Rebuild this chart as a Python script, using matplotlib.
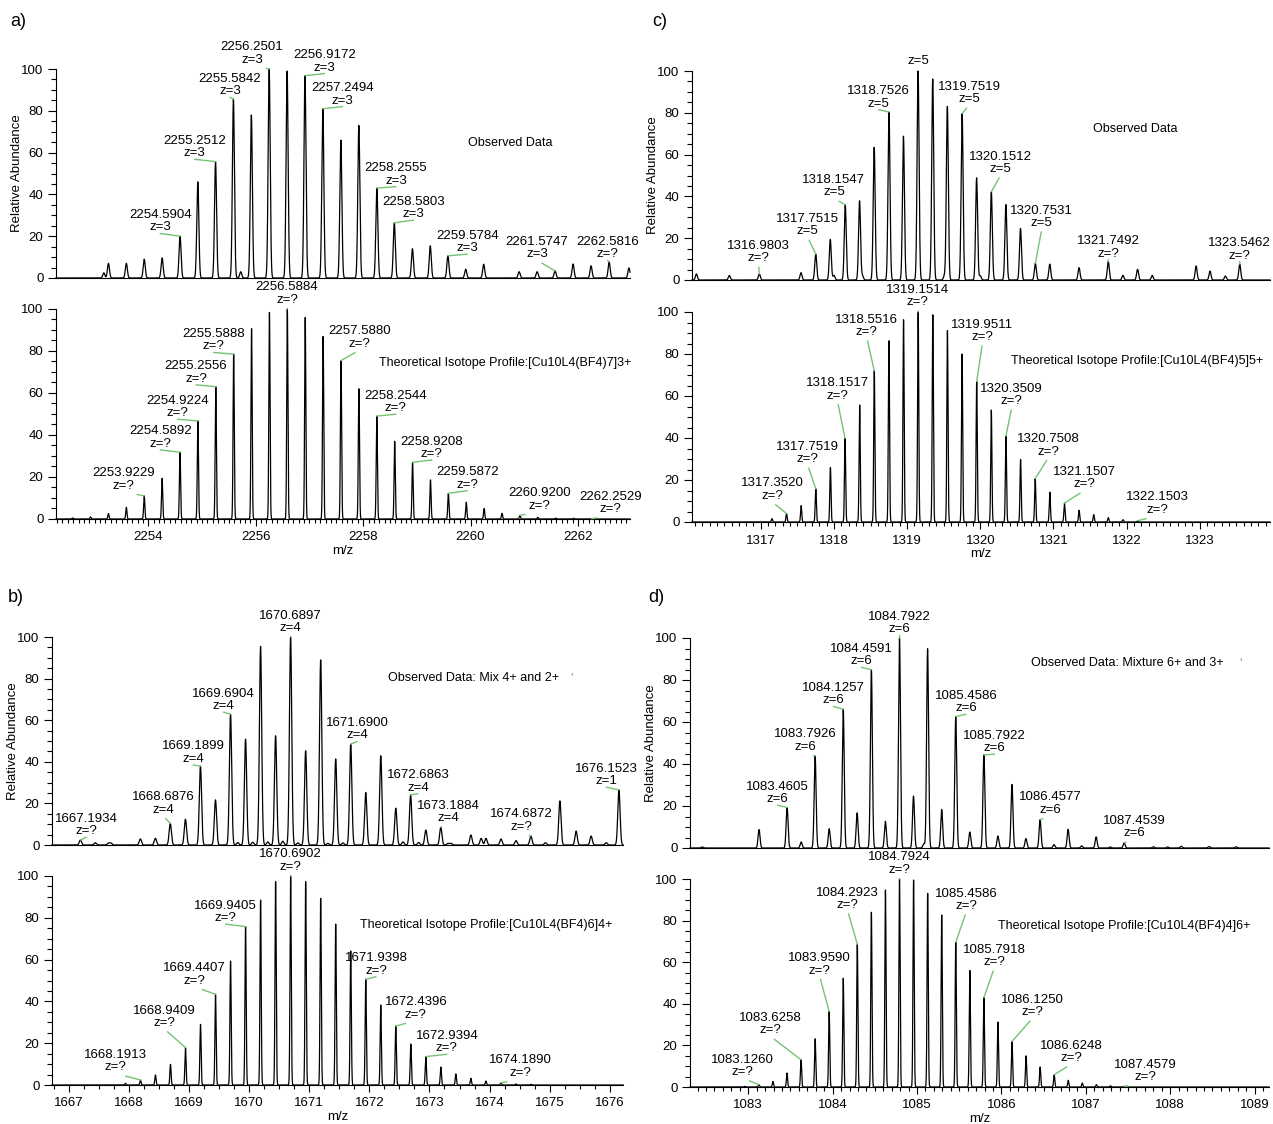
import numpy as np
import matplotlib
matplotlib.use("Agg")
import matplotlib.pyplot as plt
from matplotlib.ticker import MultipleLocator

plt.rcParams["font.family"] = ["Liberation Sans", "DejaVu Sans"]

# ---- a) [Cu10L4(BF4)7]3+ ----
a_obs_mz = [2253.17, 2253.2567, 2253.59, 2253.923, 2254.256, 2254.5904, 2254.921, 2255.2512,
            2255.5842, 2255.72, 2255.918, 2256.2501, 2256.584, 2256.9172, 2257.2494, 2257.585,
            2257.92, 2258.2555, 2258.5803, 2258.918, 2259.25, 2259.5784, 2259.91, 2260.245,
            2260.905, 2261.24, 2261.5747, 2261.91, 2262.245, 2262.5816, 2262.95]
a_obs_int = [2.5, 7, 7, 9, 9.6, 20, 46, 55.7, 85.6, 3, 78, 100, 99, 96.8, 81, 66, 73, 43, 26.4,
             14, 15.4, 10.6, 4.2, 6.6, 3, 3, 3.4, 6.7, 5.8, 7.7, 4.8]
a_theo_mz = [2252.5900, 2252.9232, 2253.2565, 2253.5897, 2253.9229, 2254.2560, 2254.5892,
             2254.9224, 2255.2556, 2255.5888, 2255.9220, 2256.2552, 2256.5884, 2256.9216,
             2257.2548, 2257.5880, 2257.9212, 2258.2544, 2258.5876, 2258.9208, 2259.2540,
             2259.5872, 2259.9204, 2260.2536, 2260.5868, 2260.9200, 2261.2532, 2261.5864,
             2261.9196, 2262.2529]
a_theo_int = [0.5, 1.0, 2.6, 5.6, 11.0, 19.4, 31.8, 46.7, 63.0, 78.5, 90.6, 98.4, 100, 96.0,
              87.0, 75.4, 62.0, 49.0, 37.0, 27.0, 18.6, 12.2, 8.0, 5.0, 2.7, 1.7, 0.8, 0.4, 0.3, 0.1]
a_obs_labels = [("2254.5904", "z=3"), ("2255.2512", "z=3"), ("2255.5842", "z=3"),
                ("2256.2501", "z=3"), ("2256.9172", "z=3"), ("2257.2494", "z=3"),
                ("2258.2555", "z=3"), ("2258.5803", "z=3"), ("2259.5784", "z=3"),
                ("2261.5747", "z=3"), ("2262.5816", "z=?")]
a_theo_labels = ["2253.9229", "2254.5892", "2254.9224", "2255.2556", "2255.5888", "2256.5884",
                 "2257.5880", "2258.2544", "2258.9208", "2259.5872", "2260.9200", "2262.2529"]

# ---- b) [Cu10L4(BF4)6]4+ ----
b_obs_mz = [1667.1934, 1667.44, 1667.66, 1667.70, 1668.19, 1668.44, 1668.6876, 1668.94,
            1669.1899, 1669.44, 1669.6904, 1669.81, 1669.94, 1670.06, 1670.19, 1670.31,
            1670.44, 1670.56, 1670.6897, 1670.81, 1670.94, 1671.19, 1671.31, 1671.44,
            1671.56, 1671.6900, 1671.94, 1672.19, 1672.44, 1672.56, 1672.6863, 1672.82,
            1672.94, 1673.1884, 1673.31, 1673.36, 1673.69, 1673.86, 1673.94, 1674.19,
            1674.44, 1674.6872, 1674.93, 1675.17, 1675.44, 1675.69, 1675.94, 1676.1523]
b_obs_int = [2.4, 1.1, 0.9, 0.9, 2.9, 3.2, 10.4, 12.4, 37.9, 21.7, 62.9, 1.2, 50.9, 1.3, 95.5,
             1.5, 52.5, 1.8, 100, 1.0, 45.3, 89, 0.8, 41.4, 1.0, 48.5, 25.2, 42.9, 17.7, 1.5,
             24.1, 1.2, 7.2, 8.5, 0.8, 0.8, 4.8, 3.2, 3.2, 2.9, 2.1, 4.3, 1.1, 21.2, 6.7, 4.3,
             1.1, 26.5]
b_theo_mz = [1667.9414, 1668.1913, 1668.4412, 1668.6911, 1668.9409, 1669.1908, 1669.4407,
             1669.6906, 1669.9405, 1670.1904, 1670.4403, 1670.6902, 1670.9401, 1671.1900,
             1671.4399, 1671.6898, 1671.9398, 1672.1897, 1672.4396, 1672.6895, 1672.9394,
             1673.1893, 1673.4392, 1673.6891, 1673.9390, 1674.1890, 1674.4389, 1674.6888]
b_theo_int = [0.8, 2.4, 4.8, 9.9, 17.9, 29.0, 43.4, 59.3, 75.8, 88.5, 97.3, 100, 97.3, 89.3,
              77.0, 64.1, 50.6, 38.3, 28.2, 19.6, 13.6, 8.6, 5.3, 3.2, 1.9, 1.0, 0.5, 0.3]
b_obs_labels = [("1667.1934", "z=?"), ("1668.6876", "z=4"), ("1669.1899", "z=4"),
                ("1669.6904", "z=4"), ("1670.6897", "z=4"), ("1671.6900", "z=4"),
                ("1672.6863", "z=4"), ("1673.1884", "z=4"), ("1674.6872", "z=?"),
                ("1676.1523", "z=1")]
b_theo_labels = ["1668.1913", "1668.9409", "1669.4407", "1669.9405", "1670.6902",
                 "1671.9398", "1672.4396", "1672.9394", "1674.1890"]

# ---- c) [Cu10L4(BF4)5]5+ ----
c_obs_mz = [1316.12, 1316.57, 1316.9803, 1317.55, 1317.7515, 1317.95, 1318.00, 1318.1547,
            1318.35, 1318.39, 1318.55, 1318.7526, 1318.95, 1319.15, 1319.35, 1319.51, 1319.55,
            1319.7519, 1319.95, 1320.00, 1320.1512, 1320.35, 1320.55, 1320.7531, 1320.95,
            1321.35, 1321.7492, 1321.95, 1322.15, 1322.35, 1322.95, 1323.14, 1323.35, 1323.5462]
c_obs_int = [2.9, 2.2, 2.9, 3.5, 12.4, 19.4, 2.2, 36, 37.9, 2, 63.5, 80.4, 68.8, 100, 96.2, 2,
             83, 79.6, 48.9, 2, 42.2, 36.1, 24.7, 8, 7.6, 5.9, 8.8, 2.2, 5.1, 2.2, 6.7, 4.3,
             1.9, 7.6]
c_theo_mz = [1317.1520, 1317.3520, 1317.5519, 1317.7519, 1317.9518, 1318.1517, 1318.3517,
             1318.5516, 1318.7515, 1318.9515, 1319.1514, 1319.3513, 1319.5512, 1319.7512,
             1319.9511, 1320.1510, 1320.3509, 1320.5509, 1320.7508, 1320.9507, 1321.1507,
             1321.3506, 1321.5505, 1321.7504, 1321.9504, 1322.1503]
c_theo_int = [1.6, 4.0, 7.8, 15.8, 26.0, 39.8, 55.7, 72.0, 86.3, 96.3, 100, 98.7, 91.2, 80.0,
              66.9, 53.3, 40.9, 29.8, 20.7, 14.2, 9.0, 5.6, 3.5, 2.1, 1.1, 0.6]
c_obs_labels = [("1316.9803", "z=?"), ("1317.7515", "z=5"), ("1318.1547", "z=5"),
                ("1318.7526", "z=5"), ("1319.7519", "z=5"), ("1320.1512", "z=5"),
                ("1320.7531", "z=5"), ("1321.7492", "z=?"), ("1323.5462", "z=?")]
c_theo_labels = ["1317.3520", "1317.7519", "1318.1517", "1318.5516", "1319.1514",
                 "1319.9511", "1320.3509", "1320.7508", "1321.1507", "1322.1503"]

# ---- d) [Cu10L4(BF4)4]6+ ----
d_obs_mz = [1082.454, 1083.128, 1083.4605, 1083.627, 1083.7926, 1083.959, 1084.1257, 1084.29,
            1084.4591, 1084.625, 1084.7922, 1084.958, 1085.08, 1085.125, 1085.292, 1085.4586,
            1085.625, 1085.7922, 1085.958, 1086.125, 1086.29, 1086.4577, 1086.622, 1086.79,
            1086.95, 1087.122, 1087.29, 1087.4539, 1087.80, 1087.97, 1088.13, 1088.46, 1088.78]
d_obs_int = [0.5, 8.8, 19.3, 2.9, 43.8, 9.2, 66.1, 16.7, 84.9, 12.7, 100, 24.7, 2, 94.9, 18.3,
             62.6, 7.6, 44.3, 5.7, 30.3, 4.5, 13.5, 1.6, 8.9, 1, 5.3, 0.5, 2.5, 0.6, 0.5, 0.8,
             0.7, 0.6]
d_theo_mz = [1082.9594, 1083.1260, 1083.2927, 1083.4593, 1083.6258, 1083.7925, 1083.9590,
             1084.1256, 1084.2923, 1084.4590, 1084.6257, 1084.7924, 1084.9590, 1085.1257,
             1085.2923, 1085.4586, 1085.6253, 1085.7918, 1085.9585, 1086.1250, 1086.2917,
             1086.4583, 1086.6248, 1086.7915, 1086.9580, 1087.1247, 1087.2913, 1087.4579]
d_theo_int = [0.3, 1.1, 2.7, 6.7, 13.1, 23.2, 36.3, 52.3, 68.6, 84.0, 94.7, 100, 99.5, 93.1,
              82.7, 69.6, 56.0, 43.0, 31.2, 21.9, 15.0, 9.6, 5.9, 3.2, 1.9, 1.1, 0.6, 0.3]
d_obs_labels = [("1083.4605", "z=6"), ("1083.7926", "z=6"), ("1084.1257", "z=6"),
                ("1084.4591", "z=6"), ("1084.7922", "z=6"), ("1085.4586", "z=6"),
                ("1085.7922", "z=6"), ("1086.4577", "z=6"), ("1087.4539", "z=6")]
d_theo_labels = ["1083.1260", "1083.6258", "1083.9590", "1084.2923", "1084.7924",
                 "1085.4586", "1085.7918", "1086.1250", "1086.6248", "1087.4579"]

# where the label text sits (centre x, bottom y) in data units
a_obs_spots = [(2254.22, 21.3), (2254.86, 56.8), (2255.52, 86.5), (2255.93, 101.6),
               (2257.28, 97.8), (2257.62, 82), (2258.61, 43.7), (2258.94, 27.7),
               (2259.94, 11.4), (2261.24, 8.5), (2262.55, 8.5)]
a_theo_spots = [(2253.54, 13.0), (2254.22, 32.9), (2254.545, 47.5), (2254.887, 63.9),
                (2255.214, 79.3), (2256.583, 101.6), (2257.94, 80.6), (2258.61, 49.9),
                (2259.28, 28.1), (2259.94, 13.5), (2261.28, 3.5), (2262.605, 1.9)]
b_obs_spots = [(1667.289, 3.7), (1668.567, 14.1), (1669.066, 38.5), (1669.571, 63.9),
               (1670.686, 101.4), (1671.80, 49.8), (1672.81, 24.7), (1673.31, 10),
               (1674.53, 5.9), (1675.94, 27.8)]
b_theo_spots = [(1667.768, 5.6), (1668.589, 26.8), (1669.095, 47), (1669.608, 77),
                (1670.68, 101.6), (1672.11, 51.8), (1672.774, 30.8), (1673.29, 14.7),
                (1674.52, 2.9)]
c_obs_spots = [(1316.97, 7.5), (1317.642, 20.4), (1318.0, 39), (1318.607, 81.5),
               (1319.846, 83.6), (1320.28, 50.2), (1320.84, 24.4), (1321.75, 9.8),
               (1323.546, 8.8)]
c_theo_spots = [(1317.156, 9.6), (1317.642, 27), (1318.05, 57.3), (1318.45, 87.6),
                (1319.148, 101.9), (1320.03, 85.2), (1320.43, 54.6), (1320.934, 30.7),
                (1321.425, 15.1), (1322.424, 2.9)]
d_obs_spots = [(1083.348, 20.4), (1083.676, 45.4), (1084.008, 67.4), (1084.34, 86),
               (1084.795, 101.3), (1085.582, 63.7), (1085.919, 44.7), (1086.584, 15.3),
               (1087.576, 4.1)]
d_theo_spots = [(1082.933, 4.3), (1083.265, 24.3), (1083.847, 53.1), (1084.179, 84.6),
                (1084.795, 101.6), (1085.582, 84), (1085.914, 57.1), (1086.369, 33.1),
                (1086.828, 11), (1087.703, 1.9)]

GREEN = "#74c374"
FS = 9.5
W, H = 1273, 1124
fig = plt.figure(figsize=(W / 100, H / 100), dpi=100)


def make_axes(x0, x1, ytop, ybot):
    ax = fig.add_axes([x0 / W, 1 - ybot / H, (x1 - x0) / W, (ybot - ytop) / H])
    for s in ["top", "right"]:
        ax.spines[s].set_visible(False)
    for s in ["left", "bottom"]:
        ax.spines[s].set_linewidth(0.8)
    ax.set_ylim(0, 100)
    ax.yaxis.set_major_locator(MultipleLocator(20))
    ax.yaxis.set_minor_locator(MultipleLocator(5))
    ax.tick_params(axis="y", which="major", length=6, width=0.8, labelsize=FS, pad=3)
    ax.tick_params(axis="y", which="minor", length=3.5, width=0.8)
    return ax


def spectrum(ax, mz, inten, width, xlim):
    grid = np.linspace(xlim[0], xlim[1], 16000)
    prof = np.zeros_like(grid)
    for m, h in zip(mz, inten):
        prof += h * np.exp(-0.5 * ((grid - m) / width) ** 2)
    ax.plot(grid, prof, color="black", lw=0.9, clip_on=False)
    ax.set_xlim(xlim)


def label_peaks(ax, mz, inten, labels, spots):
    mz = np.array(mz)
    for (mass, z), (tx, ty) in zip(labels, spots):
        i = np.argmin(np.abs(mz - float(mass)))
        ax.annotate(mass + "\n" + z, xy=(mz[i], inten[i]), xytext=(tx, ty),
                    ha="center", va="bottom", fontsize=FS, linespacing=1.05,
                    annotation_clip=False,
                    arrowprops=dict(arrowstyle="-", color=GREEN, lw=1.0,
                                    shrinkA=0, shrinkB=0, relpos=(0.5, 0)))


def top_style(ax):
    ax.tick_params(axis="x", which="both", bottom=False, labelbottom=False)
    ax.set_ylabel("Relative Abundance", fontsize=FS)
    ax.yaxis.set_label_coords(-0.057, 0.5)


def bottom_style(ax, major, minor):
    ax.xaxis.set_major_locator(MultipleLocator(major))
    ax.xaxis.set_minor_locator(MultipleLocator(minor))
    ax.tick_params(axis="x", which="major", length=5, width=0.8, labelsize=FS, pad=4)
    ax.tick_params(axis="x", which="minor", length=3, width=0.8)
    ax.set_xlabel("m/z", fontsize=FS)
    ax.xaxis.label.set_va("center")
    ax.xaxis.set_label_coords(0.5, -0.153)


def note(ax, x, y, s, ha="left"):
    ax.text(x, y, s, ha=ha, va="center", fontsize=9)


# a)
xl = (2252.28, 2262.97)
ax = make_axes(56, 630, 69, 278)
spectrum(ax, a_obs_mz, a_obs_int, 0.019, xl)
label_peaks(ax, a_obs_mz, a_obs_int, a_obs_labels, a_obs_spots)
note(ax, 2260.74, 64.8, "Observed Data", ha="center")
top_style(ax)
ax = make_axes(56, 630, 309, 519)
spectrum(ax, a_theo_mz, a_theo_int, 0.011, xl)
label_peaks(ax, a_theo_mz, a_theo_int, [(m, "z=?") for m in a_theo_labels], a_theo_spots)
note(ax, 2258.29, 74.2, "Theoretical Isotope Profile:[Cu10L4(BF4)7]3+")
bottom_style(ax, 2, 0.1)

# c)
xl = (1316.06, 1323.96)
ax = make_axes(692, 1270, 71, 280)
spectrum(ax, c_obs_mz, c_obs_int, 0.0135, xl)
label_peaks(ax, c_obs_mz, c_obs_int, c_obs_labels, c_obs_spots)
ax.annotate("z=5", xy=(1319.15, 100), xytext=(1319.148, 102), ha="center", va="bottom",
            fontsize=FS, annotation_clip=False)
note(ax, 1322.12, 72.1, "Observed Data", ha="center")
top_style(ax)
ax = make_axes(692, 1270, 312, 522)
spectrum(ax, c_theo_mz, c_theo_int, 0.008, xl)
label_peaks(ax, c_theo_mz, c_theo_int, [(m, "z=?") for m in c_theo_labels], c_theo_spots)
note(ax, 1320.42, 76.8, "Theoretical Isotope Profile:[Cu10L4(BF4)5]5+")
bottom_style(ax, 1, 0.1)

# b)
xl = (1666.72, 1676.22)
ax = make_axes(52, 623, 637, 845)
spectrum(ax, b_obs_mz, b_obs_int, 0.019, xl)
label_peaks(ax, b_obs_mz, b_obs_int, b_obs_labels, b_obs_spots)
note(ax, 1672.31, 80.3, "Observed Data: Mix 4+ and 2+")
ax.text(1675.36, 80.3, "'", ha="center", va="center", fontsize=9, color="0.6")
top_style(ax)
ax = make_axes(52, 623, 876, 1085)
spectrum(ax, b_theo_mz, b_theo_int, 0.010, xl)
label_peaks(ax, b_theo_mz, b_theo_int, [(m, "z=?") for m in b_theo_labels], b_theo_spots)
note(ax, 1671.85, 76.6, "Theoretical Isotope Profile:[Cu10L4(BF4)6]4+")
bottom_style(ax, 1, 0.25)

# d)
xl = (1082.31, 1089.17)
ax = make_axes(690, 1269, 638, 848)
spectrum(ax, d_obs_mz, d_obs_int, 0.0115, xl)
label_peaks(ax, d_obs_mz, d_obs_int, d_obs_labels, d_obs_spots)
note(ax, 1086.354, 88, "Observed Data: Mixture 6+ and 3+")
ax.text(1088.83, 88, "'", ha="center", va="center", fontsize=9, color="0.6")
top_style(ax)
ax = make_axes(690, 1269, 879, 1087)
spectrum(ax, d_theo_mz, d_theo_int, 0.007, xl)
label_peaks(ax, d_theo_mz, d_theo_int, [(m, "z=?") for m in d_theo_labels], d_theo_spots)
note(ax, 1085.955, 77.6, "Theoretical Isotope Profile:[Cu10L4(BF4)4]6+")
bottom_style(ax, 1, 0.1)

# panel letters
for txt, x, y in [("a)", 10, 22), ("c)", 652, 22), ("b)", 8, 597), ("d)", 648, 597)]:
    fig.text(x / W, 1 - y / H, txt, fontsize=13, ha="left", va="center")

fig.savefig("out.png", dpi=100)
